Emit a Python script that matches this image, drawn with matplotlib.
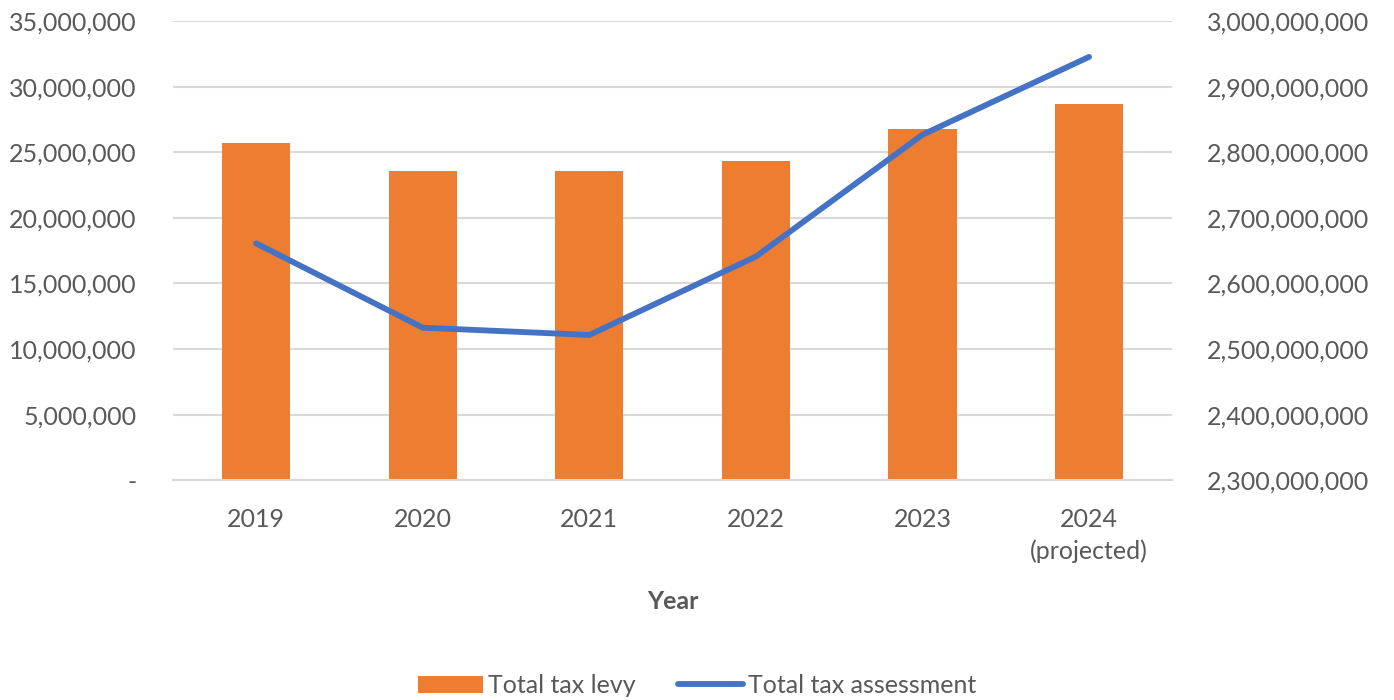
import matplotlib
matplotlib.use("Agg")
import matplotlib.pyplot as plt
from matplotlib.ticker import FuncFormatter

plt.rcParams['font.family'] = ['Lato', 'DejaVu Sans']

# data
years = ['2019', '2020', '2021', '2022', '2023', '2024\n(projected)']
tax_levy = [25690000, 23590000, 23590000, 24330000, 26790000, 28650000]
tax_assessment = [2661000000, 2532500000, 2521400000, 2640900000, 2826700000, 2945300000]

grey = '#595959'
x = list(range(len(years)))

fig = plt.figure(figsize=(13.94, 7.0), dpi=100)
ax1 = fig.add_axes([0.124, 0.314, 0.717, 0.656])
ax2 = ax1.twinx()

bars = ax1.bar(x, tax_levy, width=0.41, color='#ED7D31', label='Total tax levy', zorder=2)
line, = ax2.plot(x, tax_assessment, color='#4472C4', linewidth=4.2,
                 solid_capstyle='round', solid_joinstyle='round', label='Total tax assessment')

ax1.set_xlim(-0.5, len(years) - 0.5)
ax1.set_ylim(0, 35000000)
ax1.set_yticks(range(0, 35000001, 5000000))
ax2.set_ylim(2300000000, 3000000000)
ax2.set_yticks(range(2300000000, 3000000001, 100000000))

ax1.yaxis.set_major_formatter(FuncFormatter(lambda v, p: '-' if v == 0 else f'{v:,.0f}'))
ax2.yaxis.set_major_formatter(FuncFormatter(lambda v, p: f'{v:,.0f}'))

ax1.set_xticks(x)
ax1.set_xticklabels(years, linespacing=1.45)
ax1.grid(axis='y', color='#d9d9d9', linewidth=1.5, zorder=0)
ax1.set_axisbelow(True)

for ax in (ax1, ax2):
    for s in ax.spines.values():
        s.set_visible(False)
    ax.tick_params(axis='both', length=0, labelsize=18, labelcolor=grey)
ax1.tick_params(axis='y', pad=26)
ax2.tick_params(axis='y', pad=25)
ax1.tick_params(axis='x', pad=20)
ax1.spines['bottom'].set_visible(True)
ax1.spines['bottom'].set_color('#d9d9d9')
ax1.spines['bottom'].set_linewidth(1.5)

ax1.set_xlabel('Year', fontsize=18, fontweight='bold', color=grey, labelpad=19)

fig.legend([bars, line], ['Total tax levy', 'Total tax assessment'],
           loc='lower center', bbox_to_anchor=(0.5, -0.028), ncol=2, frameon=False,
           fontsize=18, labelcolor=grey, handlelength=2.6, columnspacing=1.7,
           handletextpad=0.2)

fig.savefig('out.png', dpi=100, facecolor='white')
